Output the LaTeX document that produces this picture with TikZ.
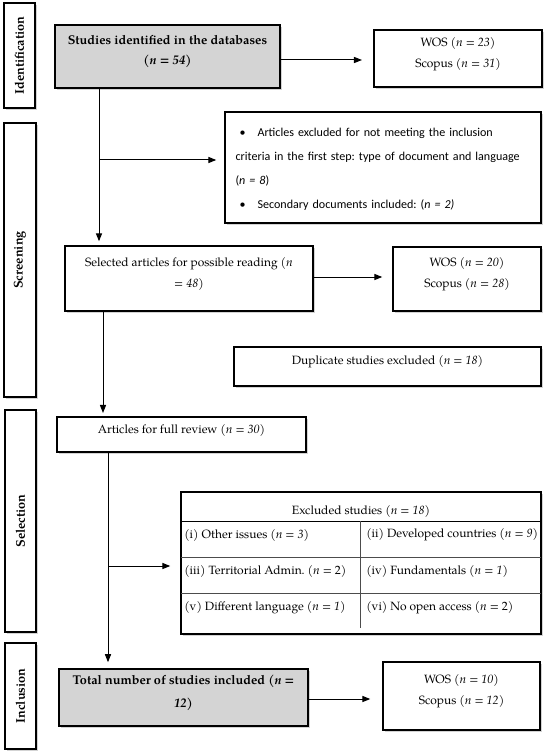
\documentclass[tikz,border=0pt]{standalone}
\usepackage{fontspec}
\setmainfont{TeX Gyre Pagella}
\newfontfamily\calib{Carlito}
\usetikzlibrary{arrows.meta,shadows,fit,calc}
\frenchspacing
\begin{document}
\begin{tikzpicture}[x=0.75pt,y=-0.75pt,
  font=\fontsize{9}{16}\selectfont,
  shad/.style={drop shadow={shadow xshift=1.6pt,shadow yshift=-1.6pt,opacity=0.35}},
  box/.style={draw,line width=1.1pt,inner sep=0pt,align=center,fill=white,shad},
  greybox/.style={box,fill=black!17,line width=2.2pt},
  sidebox/.style={draw,line width=2.2pt,inner sep=0pt,fill=white,shad},
  arr/.style={-{Triangle[length=6pt,width=4.6pt]},line width=0.75pt},
  cell/.style={anchor=west,inner sep=0pt},
]
\useasboundingbox (0,0) rectangle (550,756);

% side labels
\node[sidebox,fit={(4,3)(35,108)},label={[rotate=90,font=\fontsize{9.5}{11}\selectfont\bfseries]center:Identification}] (sId) {};
\node[sidebox,fit={(4,123)(36,397)},label={[rotate=90,font=\fontsize{9.5}{11}\selectfont\bfseries]center:Screening}] (sSc) {};
\node[sidebox,fit={(5,410)(36,632)},label={[rotate=90,font=\fontsize{9.5}{11}\selectfont\bfseries]center:Selection}] (sSe) {};
\node[sidebox,fit={(5,643)(36,749)},label={[rotate=90,font=\fontsize{9.5}{11}\selectfont\bfseries]center:Inclusion}] (sIn) {};

% identification
\node[greybox,fit={(55,25)(280,88)},font=\fontsize{9.5}{15}\selectfont\bfseries] (id) {Studies identified in the databases\\\textit{(n = 54)}};
\node[box,fit={(374,30)(542,87)}] (wos1) {WOS (\textit{n = 23})\\Scopus (\textit{n = 31})};

% screening
\node[box,fit={(225,112)(541,223)}] (excl) {};
\node[anchor=west,inner sep=0pt,text width=300*0.75pt,align=left,font=\calib\fontsize{9.05}{18}\selectfont] (exclt) at ($(excl.west)+(11,2)$) {\hspace*{3pt}\textbullet\hspace{9pt}Articles excluded for not meeting the inclusion\\criteria in the first step: type of document and language\\(\textit{n = 8})\\\hspace*{3pt}\textbullet\hspace{9pt}Secondary documents included: (\textit{n = 2)}};
\node[box,fit={(65,246)(313,311)}] (sel) {Selected articles for possible reading (\textit{n}\\\textit{= 48})};
\node[box,fit={(393,247)(541,311)}] (wos2) {WOS (\textit{n = 20})\\Scopus (\textit{n = 28})};
\node[box,fit={(234,347)(541,386)}] (dup) {Duplicate studies excluded (\textit{n = 18})};

% selection
\node[box,fit={(57,417)(306,452)}] (full) {Articles for full review (\textit{n = 30})};
\node[box,fit={(181,492)(541,634)}] (tab) {};
\draw[line width=0.6pt] (181,521) -- (541,521);
\draw[line width=0.6pt,black!70] (181,557) -- (541,557) (181,593) -- (541,593) (360,521) -- (360,628);
\node[inner sep=0pt] (th) at (361,511) {Excluded studies (\textit{n = 18})};
\node[cell] (c11) at (184,535) {(i) Other issues (\textit{n = 3})};
\node[cell] (c12) at (366,535) {(ii) Developed countries (\textit{n = 9})};
\node[cell] (c21) at (184,571) {(iii) Territorial Admin. (\textit{n =} 2)};
\node[cell] (c22) at (366,571) {(iv) Fundamentals (\textit{n = 1})};
\node[cell] (c31) at (184,608) {(v) Different language (\textit{n = 1})};
\node[cell] (c32) at (366,608) {(vi) No open access (\textit{n =} 2)};

% inclusion
\node[greybox,fit={(59,669)(308,726)},font=\fontsize{9.5}{17}\selectfont\bfseries] (tot) {Total number of studies included (\textit{n =}\\\textit{12})};
\node[box,fit={(383,662)(540,730)}] (wos3) {WOS (\textit{n = 10})\\Scopus (\textit{n = 12})};

% connectors
\coordinate (v1) at (99,0);
\coordinate (b1) at (99,160);
\coordinate (v2) at (103,0);
\coordinate (v3) at (108,0);
\coordinate (b2) at (108,566);
\draw[arr,shorten >=8.5pt] (id.east |- 0,60) -- (wos1.west |- 0,60);
\draw[arr,shorten >=3pt] (id.south -| v1) -- (sel.north -| v1);
\draw[arr,shorten >=6pt] (b1) -- (b1 -| excl.west);
\draw[arr,shorten >=7.5pt] (sel.east |- 0,277) -- (wos2.west |- 0,277);
\draw[arr,shorten >=2.5pt] (sel.south -| v2) -- (full.north -| v2);
\draw[arr,shorten >=4pt] (full.south -| v3) -- (tot.north -| v3);
\draw[arr,shorten >=7.5pt] (b2) -- (b2 -| tab.west);
\draw[arr,shorten >=9pt] (tot.east |- 0,699) -- (wos3.west |- 0,699);
\end{tikzpicture}
\end{document}
